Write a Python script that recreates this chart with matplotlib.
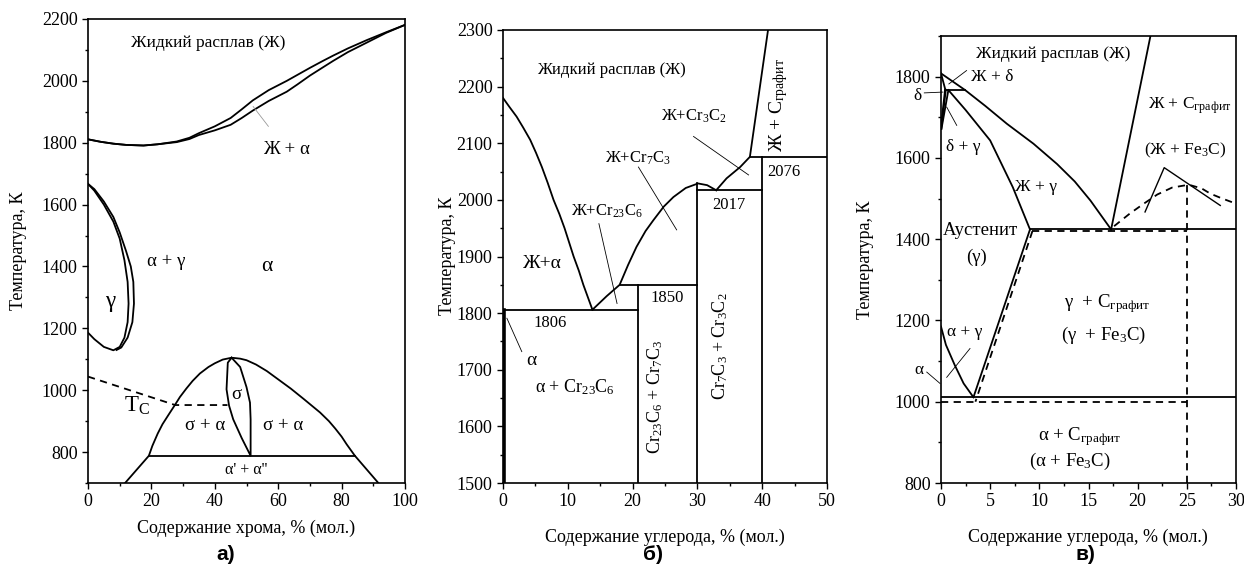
import matplotlib
matplotlib.use("Agg")
import matplotlib.pyplot as plt
from matplotlib.ticker import MultipleLocator

plt.rcParams['font.family'] = ['Liberation Serif', 'DejaVu Serif']
plt.rcParams['mathtext.fontset'] = 'custom'
plt.rcParams['mathtext.rm'] = 'Liberation Serif'
plt.rcParams['mathtext.it'] = 'Liberation Serif:italic'
plt.rcParams['mathtext.bf'] = 'Liberation Serif:bold'

# ---------- а) Fe-Cr ----------
a_liq_x = [0, 4, 8, 12, 17.5, 22, 28, 32, 35, 40, 45, 48.5, 52, 57, 62.7, 66, 70, 74, 77.4, 82, 88, 94, 100]
a_liq_T = [1811, 1803, 1797, 1793, 1791, 1795, 1804, 1816, 1831, 1853, 1880, 1908, 1937, 1970, 2000,
           2019, 2042, 2064, 2082, 2105, 2132, 2157, 2181]
a_sol_x = [0, 4, 8, 12, 17.5, 22, 28, 32, 35, 40, 45, 48.5, 52, 57, 62.7, 66, 70, 74, 77.4, 82, 88, 94, 100]
a_sol_T = [1811, 1803, 1797, 1793, 1791, 1795, 1802, 1812, 1825, 1840, 1858, 1880, 1904, 1935, 1965,
           1988, 2017, 2043, 2065, 2093, 2124, 2155, 2181]
a_gin_x = [0, 2, 5, 8, 10, 11.5, 12.5, 12.8, 12.5, 11.5, 10, 8, 5, 2, 0]
a_gin_T = [1667, 1645, 1600, 1545, 1490, 1420, 1350, 1280, 1220, 1170, 1140, 1129, 1140, 1165, 1186]
a_gout_x = [0, 2, 5, 8, 10, 12, 13.5, 14.3, 14.5, 14, 12.5, 10.5, 9]
a_gout_T = [1667, 1650, 1610, 1560, 1510, 1450, 1400, 1350, 1280, 1220, 1170, 1138, 1130]
a_tc_x = [0, 27.5, 44]
a_tc_T = [1044, 952, 952]
a_dome_x = [11.7, 19.2, 20.3, 22, 23.5, 25.5, 27.4, 29, 31, 33, 35.3, 38, 40, 42.5, 45.3, 48, 50, 53,
            56.4, 60, 64, 68, 73.2, 76, 78, 80, 81.6, 84.2, 91.6]
a_dome_T = [700, 788, 820, 860, 890, 922, 952, 978, 1005, 1030, 1054, 1075, 1087, 1099, 1105, 1102,
            1097, 1083, 1062, 1035, 1005, 972, 928, 900, 876, 850, 825, 788, 700]
a_sig_x = [45.3, 44.1, 43.7, 44.5, 45.8, 48.5, 51.3, 51.3, 51.1, 50, 48, 45.3]
a_sig_T = [1105, 1089, 1003, 950, 906, 845, 788, 906, 960, 1010, 1075, 1105]
a_eut_x = [19.2, 84.2]
a_eut_T = [788, 788]

# ---------- б) Cr-C ----------
b_liq1_x = [0, 1, 2.1, 3.1, 4.2, 5.1, 6, 6.9, 7.8, 8.7, 9.5, 10.2, 10.9, 11.7, 12.4, 13.1, 13.8]
b_liq1_T = [2180, 2164, 2147, 2128, 2106, 2083, 2058, 2030, 2000, 1975, 1950, 1925, 1900, 1875, 1850,
            1828, 1806]
b_liq2_x = [13.8, 16, 18, 19.3, 20.6, 22, 23.2, 24.8, 26.3, 28.2, 30.1, 31.5, 32.9]
b_liq2_T = [1806, 1830, 1850, 1885, 1917, 1945, 1964, 1988, 2005, 2021, 2029, 2026, 2017]
b_liq3_x = [32.9, 34.5, 36.6, 38.1, 40.9]
b_liq3_T = [2017, 2038, 2058, 2076, 2300]
b_hlines = [(1806, 0, 20.9), (1850, 18, 30), (2017, 30, 40), (2076, 38.1, 50)]
b_vlines = [(20.9, 1500, 1850), (30, 1500, 2029), (40, 1500, 2076)]

# ---------- в) Fe-C ----------
c_liq_x = [0, 2.45, 4.5, 6.7, 9.4, 11.8, 13.6, 15.2, 17.3]
c_liq_T = [1808, 1767, 1728, 1684, 1635, 1585, 1542, 1495, 1424]
c_dsol_x = [0, 0.45]
c_dsol_T = [1808, 1767]
c_per_x = [0.45, 2.45]
c_per_T = [1767, 1767]
c_gsol_x = [0.75, 2.5, 5, 7.3, 9.05]
c_gsol_T = [1767, 1718, 1643, 1528, 1424]
c_eut_x = [9.05, 30]
c_eut_T = [1424, 1424]
c_eutm_x = [9.3, 25]
c_eutm_T = [1420, 1420]
c_gliq_x = [17.3, 21.3]
c_gliq_T = [1424, 1900]
c_zig_x = [20.75, 22.7, 28.4]
c_zig_T = [1467, 1576, 1483]
c_fe3c_x = [17.6, 19.2, 20.6, 22, 23.5, 25.2, 26.5, 27.4, 28.5, 29.6]
c_fe3c_T = [1432, 1463, 1487, 1510, 1527, 1534, 1525, 1512, 1501, 1491]
c_acm_x = [9.05, 3.3]
c_acm_T = [1424, 1011]
c_acmm_x = [9.3, 3.5]
c_acmm_T = [1420, 1000]
c_a3_x = [0, 0.5, 1.4, 2.3, 3.3]
c_a3_T = [1185, 1140, 1090, 1045, 1011]

LW = 1.3
K = 'black'

fig = plt.figure(figsize=(12.44, 5.81), dpi=100)
W, H = 1244, 581


def make_ax(l, t, r, b):
    ax = fig.add_axes([l / W, 1 - b / H, (r - l) / W, (b - t) / H])
    for s in ax.spines.values():
        s.set_linewidth(1.2)
    ax.tick_params(which='both', direction='out', top=False, right=False,
                   labelsize=13, width=1)
    ax.tick_params(which='major', length=4)
    ax.tick_params(which='minor', length=2.5)
    return ax


def leader(ax, x0, y0, x1, y1, color='black', lw=0.6):
    ax.plot([x0, x1], [y0, y1], color=color, lw=lw, clip_on=False)


# ===== а) =====
ax = make_ax(88, 19, 405, 483)
ax.set_xlim(0, 100)
ax.set_ylim(700, 2200)
ax.xaxis.set_major_locator(MultipleLocator(20))
ax.xaxis.set_minor_locator(MultipleLocator(10))
ax.set_yticks(range(800, 2201, 200))
ax.yaxis.set_minor_locator(MultipleLocator(100))
ax.plot(a_liq_x, a_liq_T, color=K, lw=LW)
ax.plot(a_sol_x, a_sol_T, color=K, lw=LW)
ax.plot(a_gin_x, a_gin_T, color=K, lw=LW)
ax.plot(a_gout_x, a_gout_T, color=K, lw=LW)
ax.plot(a_tc_x, a_tc_T, color=K, lw=LW, ls=(0, (4, 3)))
ax.plot(a_dome_x, a_dome_T, color=K, lw=LW)
ax.plot(a_sig_x, a_sig_T, color=K, lw=LW)
ax.plot(a_eut_x, a_eut_T, color=K, lw=LW)
leader(ax, 52.1, 1917, 56.9, 1853, color='0.6', lw=0.6)
fs = 12.5
ax.text(38, 2122, 'Жидкий расплав (Ж)', fontsize=fs, ha='center', va='center')
ax.text(62.7, 1777, 'Ж + α', fontsize=fs + 1, ha='center', va='center')
ax.text(24.8, 1417, 'α + γ', fontsize=fs + 1, ha='center', va='center')
ax.text(56.4, 1401, 'α', fontsize=fs + 3, ha='center', va='center')
ax.text(6.9, 1288, 'γ', fontsize=fs + 4, ha='center', va='center')
ax.text(15.4, 949, r'T$_\mathrm{C}$', fontsize=fs + 4, ha='center', va='center')
ax.text(46.7, 987, 'σ', fontsize=fs + 1, ha='center', va='center')
ax.text(36.9, 885, 'σ + α', fontsize=fs + 1, ha='center', va='center')
ax.text(61.6, 885, 'σ + α', fontsize=fs + 1, ha='center', va='center')
ax.text(50, 743, "α' + α''", fontsize=fs - 1, ha='center', va='center')
fig.text(19 / W, 1 - 251 / H, 'Температура, К', rotation=90, fontsize=13,
         ha='center', va='center')
fig.text(246 / W, 1 - 528 / H, 'Содержание хрома, % (мол.)', fontsize=13,
         ha='center', va='center')

# ===== б) =====
ax = make_ax(503, 30, 827, 483)
ax.set_xlim(0, 50)
ax.set_ylim(1500, 2300)
ax.xaxis.set_major_locator(MultipleLocator(10))
ax.xaxis.set_minor_locator(MultipleLocator(5))
ax.yaxis.set_major_locator(MultipleLocator(100))
ax.yaxis.set_minor_locator(MultipleLocator(50))
ax.plot(b_liq1_x, b_liq1_T, color=K, lw=LW)
ax.plot(b_liq2_x, b_liq2_T, color=K, lw=LW)
ax.plot(b_liq3_x, b_liq3_T, color=K, lw=LW)
for T, x0, x1 in b_hlines:
    ax.plot([x0, x1], [T, T], color=K, lw=LW)
for x, T0, T1 in b_vlines:
    ax.plot([x, x], [T0, T1], color=K, lw=LW)
ax.plot([0.15, 0.15], [1500, 1806], color=K, lw=2.6)
leader(ax, 0.6, 1791, 2.9, 1732)
leader(ax, 14.8, 1958, 17.6, 1817)
leader(ax, 20.9, 2058, 26.8, 1947)
leader(ax, 29.4, 2112, 37.9, 2044)
fs = 12
ax.text(16.8, 2229, 'Жидкий расплав (Ж)', fontsize=fs, ha='center', va='center')
ax.text(6, 1888, 'Ж+α', fontsize=fs + 2, ha='center', va='center')
ax.text(4.4, 1717, 'α', fontsize=fs + 2, ha='center', va='center')
ax.text(16, 1979, r'Ж+Cr$_{23}$C$_6$', fontsize=fs, ha='center', va='center')
ax.text(20.9, 2073, r'Ж+Cr$_7$C$_3$', fontsize=fs, ha='center', va='center')
ax.text(29.4, 2147, r'Ж+Cr$_3$C$_2$', fontsize=fs, ha='center', va='center')
ax.text(42.5, 2168, r'Ж + C$_{\mathrm{графит}}$', fontsize=fs + 2, rotation=90,
        ha='center', va='center')
ax.text(43.3, 2049, '2076', fontsize=fs, ha='center', va='center')
ax.text(34.8, 1991, '2017', fontsize=fs, ha='center', va='center')
ax.text(25.3, 1826, '1850', fontsize=fs, ha='center', va='center')
ax.text(7.3, 1783, '1806', fontsize=fs, ha='center', va='center')
ax.text(11.1, 1670, r'α + Cr$_{23}$C$_6$', fontsize=fs + 1, ha='center', va='center')
ax.text(23.5, 1652, r'Cr$_{23}$C$_6$ + Cr$_7$C$_3$', fontsize=fs + 1, rotation=90,
        ha='center', va='center')
ax.text(33.5, 1741, r'Cr$_7$C$_3$ + Cr$_3$C$_2$', fontsize=fs + 1, rotation=90,
        ha='center', va='center')
fig.text(447 / W, 1 - 256 / H, 'Температура, К', rotation=90, fontsize=13,
         ha='center', va='center')
fig.text(665 / W, 1 - 537 / H, 'Содержание углерода, % (мол.)', fontsize=13,
         ha='center', va='center')

# ===== в) =====
ax = make_ax(941, 36, 1236, 483)
ax.set_xlim(0, 30)
ax.set_ylim(800, 1900)
ax.xaxis.set_major_locator(MultipleLocator(5))
ax.xaxis.set_minor_locator(MultipleLocator(2.5))
ax.set_yticks(range(800, 1801, 200))
ax.yaxis.set_minor_locator(MultipleLocator(100))
DASH = (0, (4, 3))
ax.plot(c_liq_x, c_liq_T, color=K, lw=LW)
ax.plot(c_dsol_x, c_dsol_T, color=K, lw=LW)
ax.plot(c_per_x, c_per_T, color=K, lw=LW)
ax.plot([0.45, 0.0], [1767, 1672], color=K, lw=1.8)
ax.plot([0.75, 0.05], [1767, 1672], color=K, lw=1.3)
ax.plot(c_gsol_x, c_gsol_T, color=K, lw=LW)
ax.plot(c_eut_x, c_eut_T, color=K, lw=LW)
ax.plot(c_eutm_x, c_eutm_T, color=K, lw=LW, ls=DASH)
ax.plot(c_gliq_x, c_gliq_T, color=K, lw=LW)
ax.plot(c_zig_x, c_zig_T, color=K, lw=1.0)
ax.plot(c_fe3c_x, c_fe3c_T, color=K, lw=LW, ls=DASH)
ax.plot([25, 25], [800, 1534], color=K, lw=LW, ls=DASH)
ax.plot(c_acm_x, c_acm_T, color=K, lw=LW)
ax.plot(c_acmm_x, c_acmm_T, color=K, lw=LW, ls=DASH)
ax.plot([0, 30], [1011, 1011], color=K, lw=LW)
ax.plot([0, 25], [1000, 1000], color=K, lw=LW, ls=DASH)
ax.plot(c_a3_x, c_a3_T, color=K, lw=LW)
leader(ax, 2.95, 1131, 0.58, 1060)
leader(ax, -1.45, 1073, -0.1, 1045)
leader(ax, -1.7, 1760, 0.2, 1762)
leader(ax, 2.6, 1815, 0.8, 1782)
leader(ax, 0.58, 1725, 1.6, 1680)
fs = 12.5
ax.text(11.4, 1856, 'Жидкий расплав (Ж)', fontsize=fs, ha='center', va='center')
ax.text(5.2, 1800, 'Ж + δ', fontsize=fs, ha='center', va='center')
ax.text(-2.4, 1752, 'δ', fontsize=fs, ha='center', va='center', clip_on=False)
ax.text(2.3, 1626, 'δ + γ', fontsize=fs, ha='center', va='center')
ax.text(9.7, 1528, 'Ж + γ', fontsize=fs, ha='center', va='center')
ax.text(25.3, 1729, r'Ж + C$_{\mathrm{графит}}$', fontsize=fs, ha='center', va='center')
ax.text(24.8, 1618, r'(Ж + Fe$_3$C)', fontsize=fs, ha='center', va='center')
ax.text(4.0, 1422, 'Аустенит', fontsize=fs + 1, ha='center', va='center')
ax.text(3.6, 1356, '(γ)', fontsize=fs + 1, ha='center', va='center')
ax.text(16.9, 1242, r'γ  + C$_{\mathrm{графит}}$', fontsize=fs + 1, ha='center', va='center')
ax.text(16.5, 1164, r'(γ  + Fe$_3$C)', fontsize=fs + 1, ha='center', va='center')
ax.text(2.4, 1172, 'α + γ', fontsize=fs, ha='center', va='center')
ax.text(-2.3, 1077, 'α', fontsize=fs, ha='center', va='center', clip_on=False)
ax.text(14.1, 914, r'α + C$_{\mathrm{графит}}$', fontsize=fs + 1, ha='center', va='center')
ax.text(13.1, 852, r'(α + Fe$_3$C)', fontsize=fs + 1, ha='center', va='center')
fig.text(866 / W, 1 - 260 / H, 'Температура, К', rotation=90, fontsize=13,
         ha='center', va='center')
fig.text(1088 / W, 1 - 537 / H, 'Содержание углерода, % (мол.)', fontsize=13,
         ha='center', va='center')

# panel captions
for px, lab in [(226, 'а)'), (653, 'б)'), (1085, 'в)')]:
    fig.text(px / W, 1 - 555 / H, lab, fontsize=15, fontweight='bold',
             family=['Liberation Sans', 'DejaVu Sans'], ha='center', va='center')

fig.savefig('out.png', dpi=100)
